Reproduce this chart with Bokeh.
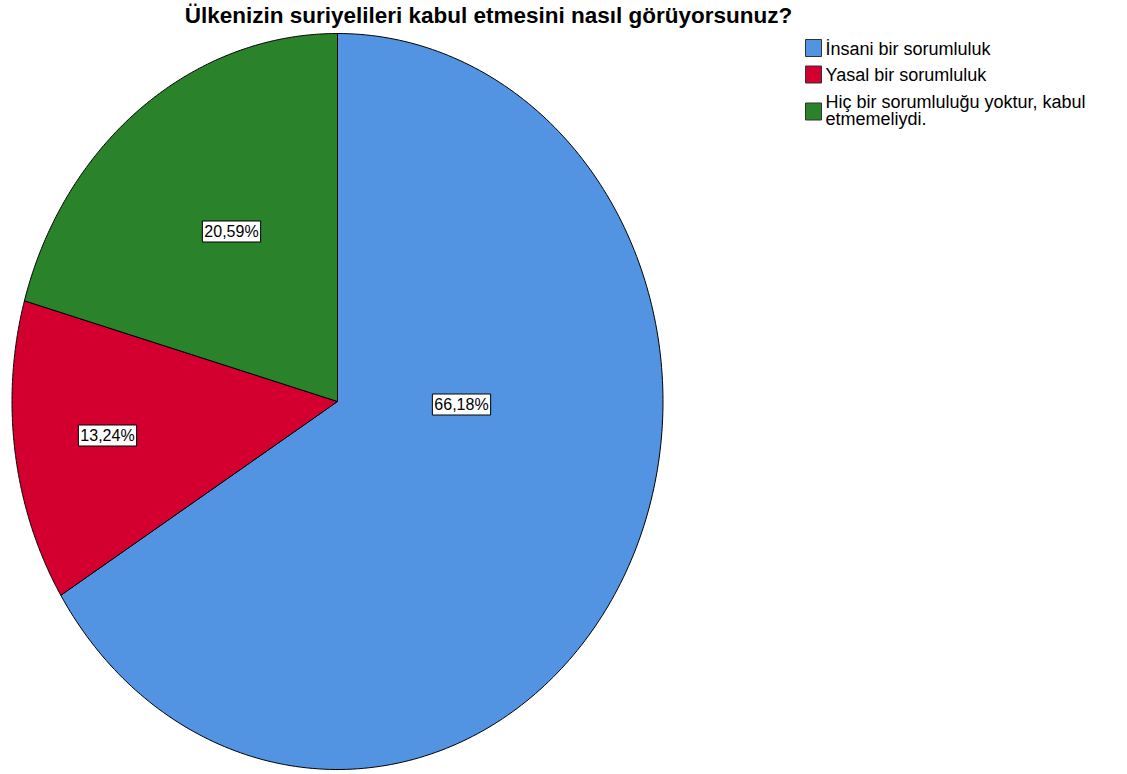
import numpy as np
from bokeh.plotting import figure
from bokeh.models import Range1d, ColumnDataSource
from bokeh.core.properties import value
from bokeh.embed import file_html
from bokeh.resources import INLINE

# ---- data ----
title_text = "Ülkenizin suriyelileri kabul etmesini nasıl görüyorsunuz?"
categories = ["İnsani bir sorumluluk", "Yasal bir sorumluluk",
              "Hiç bir sorumluluğu yoktur, kabul\netmemeliydi."]
percents = [66.18, 13.24, 20.59]
pct_labels = ["66,18%", "13,24%", "20,59%"]
colors = ["#5294E2", "#D3002F", "#2A822A"]

# ---- layout (pixel space of the figure) ----
W, H = 1120, 771
CX, CY = 337, 401      # pie centre
RX, RY = 325.5, 368    # pie radii (slightly elliptical, as in the reference)
label_pos = [(461, 404), (107, 435), (231, 231)]

p = figure(width=W, height=H, output_backend="svg", toolbar_location=None,
           x_range=Range1d(0, W), y_range=Range1d(H, 0),
           min_border=0, outline_line_color=None)
p.axis.visible = False
p.grid.visible = False
p.background_fill_color = "white"
p.border_fill_color = "white"

# slices, clockwise from 12 o'clock
total = sum(percents)
fr = np.cumsum([0] + percents) / total
xs, ys = [], []
for i in range(len(percents)):
    t = np.linspace(fr[i], fr[i + 1], 240) * 2 * np.pi
    xs.append([CX] + list(CX + RX * np.sin(t)) + [CX])
    ys.append([CY] + list(CY - RY * np.cos(t)) + [CY])
p.patches(xs, ys, fill_color=colors, line_color="black", line_width=1)

# percentage labels
lsrc = ColumnDataSource(dict(x=[q[0] for q in label_pos], y=[q[1] for q in label_pos], t=pct_labels))
p.text("x", "y", text="t", source=lsrc, text_align="center", text_baseline="middle",
       text_font=value("Liberation Sans"), text_font_size="16px", text_color="black",
       background_fill_color="white", border_line_color="black", border_line_width=1,
       padding=2)

# title
p.text([488], [15], text=[title_text], text_align="center", text_baseline="middle",
       text_font=value("Liberation Sans"), text_font_style="bold", text_font_size="22.5px",
       text_color="black")

# legend (drawn manually)
sq_y = [47.5, 74, 111]
tx_y = [48, 74, 110]
p.rect([813] * 3, sq_y, width=16, height=17, fill_color=colors, line_color="#333333", line_width=1)
p.text([825] * 3, tx_y, text=categories, text_align="left", text_baseline="middle",
       text_font=value("Liberation Sans"), text_font_size="18px", text_color="black",
       text_line_height=0.85)

open("out.html", "w").write(file_html(p, INLINE))
